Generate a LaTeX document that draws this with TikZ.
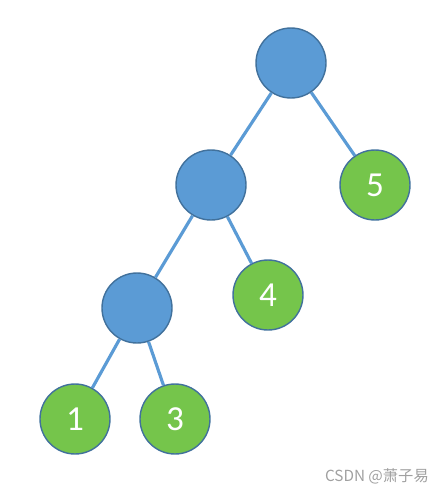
\documentclass[tikz,border=0pt]{standalone}
\usepackage{fontspec}
\setmainfont{Carlito}
\newfontfamily\cjk{Noto Sans CJK SC}
\definecolor{inner}{HTML}{5B9BD5}
\definecolor{leaf}{HTML}{75C54B}
\definecolor{rim}{HTML}{41719C}
\definecolor{mark}{HTML}{A0A0A0}
\tikzset{
  innernode/.style={circle,draw=rim,line width=0.8pt,fill=inner,minimum size=1.4cm,inner sep=0pt},
  leafnode/.style={circle,draw=rim,line width=0.8pt,fill=leaf,minimum size=1.4cm,inner sep=0pt,
    text=white,font=\fontsize{20}{20}\selectfont},
  treeedge/.style={draw=inner,line width=1.8pt}
}
\begin{document}
\begin{tikzpicture}[x=0.02cm,y=-0.02cm]
      \useasboundingbox (0,0) rectangle (447,494);
      \draw
        (291,63) node[innernode] (r){}
        (211,185) node[innernode] (m){}
        (137,308) node[innernode] (l){}
        (375,185) node[leafnode] (5){5}
        (268,295) node[leafnode] (4){4}
        (75,419) node[leafnode] (1){1}
        (175,419) node[leafnode] (3){3};
      \begin{scope}[treeedge]
        \draw (r) to (m);
        \draw (r) to (5);
        \draw (m) to (l);
        \draw (m) to (4);
        \draw (l) to (1);
        \draw (l) to (3);
      \end{scope}
      \node[text=mark,font=\cjk\fontsize{8.7}{8.7}\selectfont,anchor=east] (wm) at (435,476) {CSDN @萧子易};
    \end{tikzpicture}
\end{document}
